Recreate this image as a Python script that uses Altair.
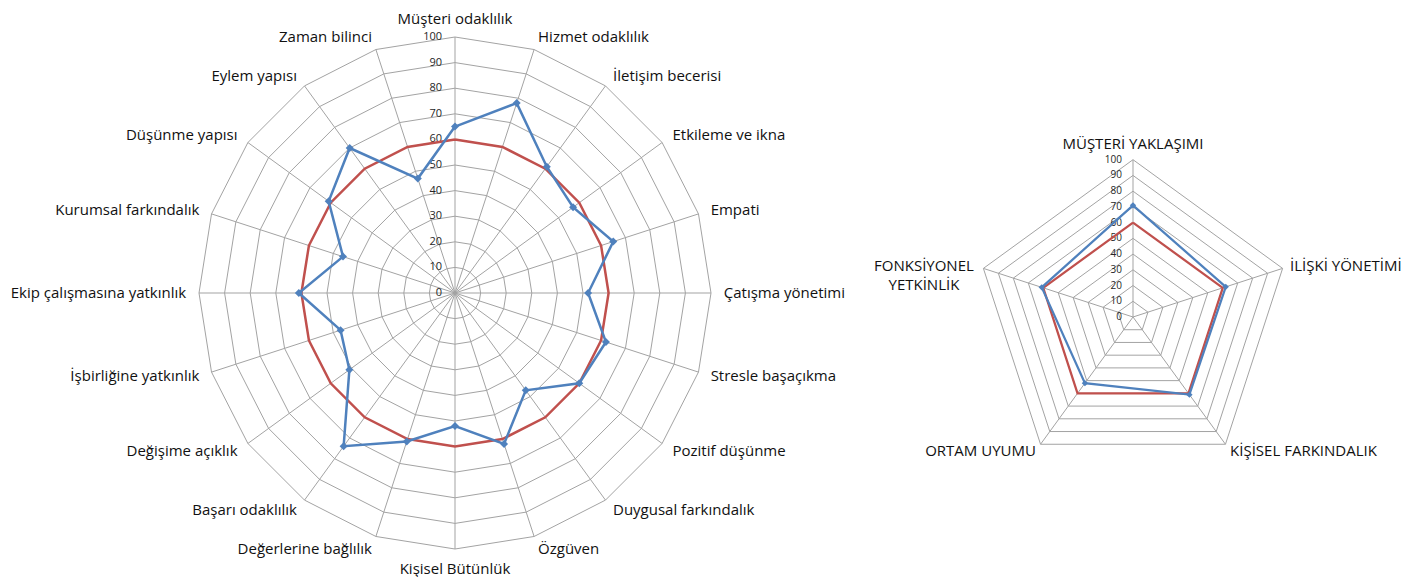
import altair as alt
import pandas as pd

# ---------------- data ----------------
left_categories = [
    "Müşteri odaklılık", "Hizmet odaklılık", "İletişim becerisi", "Etkileme ve ikna",
    "Empati", "Çatışma yönetimi", "Stresle başaçıkma", "Pozitif düşünme",
    "Duygusal farkındalık", "Özgüven", "Kişisel Bütünlük", "Değerlerine bağlılık",
    "Başarı odaklılık", "Değişime açıklık", "İşbirliğine yatkınlık",
    "Ekip çalışmasına yatkınlık", "Kurumsal farkındalık", "Düşünme yapısı",
    "Eylem yapısı", "Zaman bilinci",
]
left_scores = [65, 78, 61, 57, 65, 52, 62, 60, 47, 62, 52, 61, 74, 51, 47, 61, 46, 61, 70, 47]
left_norm = [60, 60, 60, 60, 60, 60, 60, 60, 60, 60, 60, 60, 60, 60, 60, 60, 60, 60, 60, 60]

right_categories = [
    "MÜŞTERİ YAKLAŞIMI", "İLİŞKİ YÖNETİMİ", "KİŞİSEL FARKINDALIK",
    "ORTAM UYUMU", "FONKSİYONEL\nYETKİNLİK",
]
right_scores = [71, 62, 61, 52, 61]
right_norm = [60, 60, 60, 60, 60]

tick_levels = [0, 10, 20, 30, 40, 50, 60, 70, 80, 90, 100]
tick_labels = ["0", "10", "20", "30", "40", "50", "60", "70", "80", "90", "100"]

BLUE = "#4F81BD"
RED = "#C0504D"
GRID = "#a3a3a3"
FONT = "Open Sans"


def radar(categories, scores, norm, width, height, cx, cy, ppu,
          label_size, tick_size, tick_dx, line_w, marker_size, special=None,
          top_dy=0):
    n = len(categories)
    xs = alt.Scale(domain=[-cx / ppu, (width - cx) / ppu], nice=False, zero=False)
    ys = alt.Scale(domain=[-(height - cy) / ppu, cy / ppu], nice=False, zero=False)
    ang = f"2*PI*datum.idx/{n}"
    X = alt.X("px:Q", scale=xs, axis=None)
    Y = alt.Y("py:Q", scale=ys, axis=None)

    def pos(ch):
        return ch.transform_calculate(
            px=f"datum.value*sin({ang})", py=f"datum.value*cos({ang})"
        )

    # grid rings
    ring_rows = []
    for lv in tick_levels[1:]:
        for i in range(n + 1):
            ring_rows.append({"idx": i, "level": lv, "value": lv})
    rings = pos(alt.Chart(pd.DataFrame(ring_rows)).mark_line(
        color=GRID, strokeWidth=1)).encode(
        x=X, y=Y, detail="level:N", order="idx:Q")

    # spokes
    spoke_df = pd.DataFrame({"idx": list(range(n)), "value": [tick_levels[-1]] * n})
    spokes = pos(alt.Chart(spoke_df).mark_rule(color=GRID, strokeWidth=1)).transform_calculate(
        zero="0").encode(
        x=alt.X("zero:Q", scale=xs, axis=None),
        y=alt.Y("zero:Q", scale=ys, axis=None),
        x2="px:Q", y2="py:Q")

    # tick labels along the top spoke
    tick_df = pd.DataFrame({"idx": [0] * len(tick_levels), "value": tick_levels,
                            "label": tick_labels})
    ticks = pos(alt.Chart(tick_df).mark_text(
        align="right", baseline="middle", dx=tick_dx, fontSize=tick_size,
        font=FONT, color="#262626")).encode(x=X, y=Y, text="label:N")

    # series
    ser_rows = []
    for i in range(n + 1):
        j = i % n
        ser_rows.append({"idx": i, "series": "norm", "value": norm[j]})
        ser_rows.append({"idx": i, "series": "score", "value": scores[j]})
    ser_df = pd.DataFrame(ser_rows)
    red_line = pos(alt.Chart(ser_df).transform_filter("datum.series=='norm'").mark_line(
        color=RED, strokeWidth=line_w)).encode(x=X, y=Y, order="idx:Q")
    blue_line = pos(alt.Chart(ser_df).transform_filter("datum.series=='score'").mark_line(
        color=BLUE, strokeWidth=line_w)).encode(x=X, y=Y, order="idx:Q")
    blue_pts = pos(alt.Chart(ser_df).transform_filter(
        f"datum.series=='score' && datum.idx<{n}").mark_point(
        shape="diamond", filled=True, color=BLUE, opacity=1, size=marker_size)).encode(x=X, y=Y)

    # category labels
    lab_df = pd.DataFrame({"idx": list(range(n)), "cat": categories,
                           "value": [105] * n})
    base = pos(alt.Chart(lab_df)).transform_calculate(s=f"sin({ang})")
    common = dict(fontSize=label_size, font=FONT, color="#111111", lineBreak="\n",
                  lineHeight=19)
    sp = special if special is not None else -1
    top = base.transform_filter("datum.idx==0").mark_text(
        align="center", baseline="bottom", dy=top_dy, **common).encode(x=X, y=Y, text="cat:N")
    bottom = base.transform_filter("abs(datum.s)<1e-6 && datum.idx>0").mark_text(
        align="center", baseline="top", **common).encode(x=X, y=Y, text="cat:N")
    right = base.transform_filter("datum.s>1e-6").mark_text(
        align="left", baseline="middle", **common).encode(x=X, y=Y, text="cat:N")
    left = base.transform_filter(f"datum.s<-1e-6 && datum.idx!={sp}").mark_text(
        align="right", baseline="middle", **common).encode(x=X, y=Y, text="cat:N")
    layers = [rings, spokes, ticks, red_line, blue_line, blue_pts, top, bottom, right, left]
    if special is not None:
        spec = base.transform_filter(f"datum.idx=={sp}").mark_text(
            align="center", baseline="middle", dx=-52, **common).encode(
            x=X, y=Y, text="cat:N")
        layers.append(spec)
    return alt.layer(*layers).properties(width=width, height=height)


left_chart = radar(left_categories, left_scores, left_norm,
                   width=894, height=557, cx=447, cy=280, ppu=2.56,
                   label_size=15, tick_size=11, tick_dx=-13, line_w=2.5,
                   marker_size=64, top_dy=3)
right_chart = radar(right_categories, right_scores, right_norm,
                    width=505, height=557, cx=231, cy=304, ppu=1.573,
                    label_size=15, tick_size=10, tick_dx=-11, line_w=2.25,
                    marker_size=40, special=4)

chart = alt.hconcat(left_chart, right_chart, spacing=0, bounds="flush").properties(
    padding={"top": 4, "left": 0, "right": 0, "bottom": 0}
).configure_view(stroke=None)

chart.save("out.html", embed_options={"renderer": "svg", "actions": False})
